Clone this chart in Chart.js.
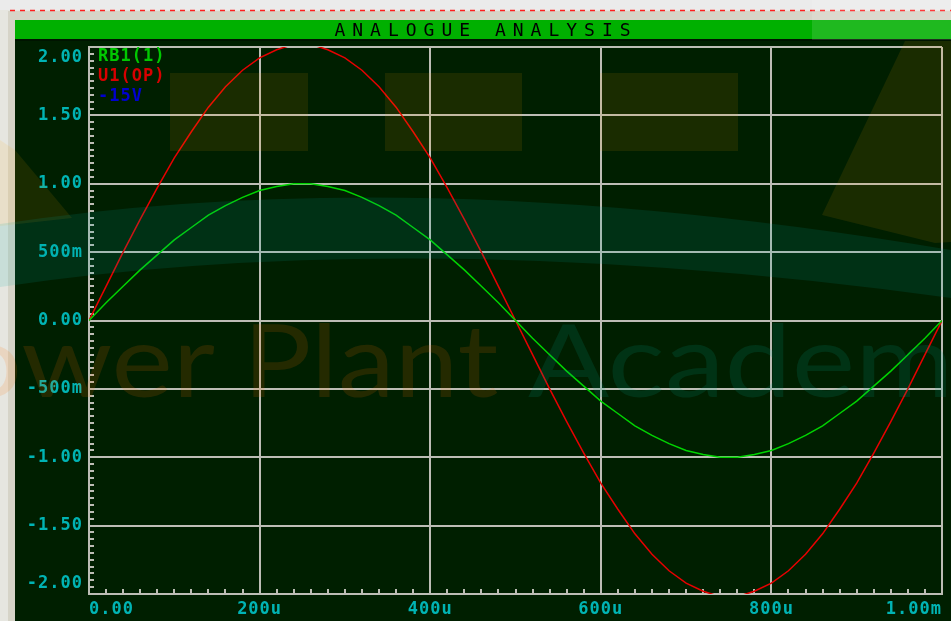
<!DOCTYPE html>
<html>
<head>
<meta charset="utf-8">
<title>Analogue Analysis</title>
<script src="https://cdn.jsdelivr.net/npm/chart.js@4.4.1/dist/chart.umd.min.js"></script>
<style>
  html, body { margin: 0; padding: 0; background: #e4e4dc; overflow: hidden; }
  #caja { width: 951px; height: 621px; }
</style>
</head>
<body>
<div id="caja"><canvas id="grafico" width="951" height="621"></canvas></div>
<script>
/// datos (tiempo en us) ///

var titulo = "ANALOGUE ANALYSIS";
var tiempos = [0, 20, 40, 60, 80, 100, 120, 140, 160, 180, 200, 220, 240, 260, 280, 300, 320, 340, 360, 380,
  400, 420, 440, 460, 480, 500, 520, 540, 560, 580, 600, 620, 640, 660, 680, 700, 720, 740, 760, 780,
  800, 820, 840, 860, 880, 900, 920, 940, 960, 980, 1000];

// RB1(1)
var valoresRB1 = [0, 0.13, 0.25, 0.37, 0.48, 0.59, 0.68, 0.77, 0.84, 0.90, 0.95, 0.98, 1.00, 1.00, 0.98, 0.95, 0.90, 0.84, 0.77, 0.68,
  0.59, 0.48, 0.37, 0.25, 0.13, 0, -0.13, -0.25, -0.37, -0.48, -0.59, -0.68, -0.77, -0.84, -0.90, -0.95, -0.98, -1.00, -1.00, -0.98,
  -0.95, -0.90, -0.84, -0.77, -0.68, -0.59, -0.48, -0.37, -0.25, -0.13, 0];

// U1(OP)
var valoresU1 = [0, 0.25, 0.50, 0.74, 0.97, 1.19, 1.38, 1.56, 1.71, 1.83, 1.92, 1.98, 2.02, 2.02, 1.98, 1.92, 1.83, 1.71, 1.56, 1.38,
  1.19, 0.97, 0.74, 0.50, 0.25, 0, -0.25, -0.50, -0.74, -0.97, -1.19, -1.38, -1.56, -1.71, -1.83, -1.92, -1.98, -2.02, -2.02, -1.98,
  -1.92, -1.83, -1.71, -1.56, -1.38, -1.19, -0.97, -0.74, -0.50, -0.25, 0];

// -15V (fuera de escala, no se ve)
var tiempos15 = [0, 1000];
var valores15 = [-15, -15];

var nombresSeries = ["RB1(1)", "U1(OP)", "-15V"];

var ticksX = [0, 200, 400, 600, 800, 1000];
var etiquetasX = ["0.00", "200u", "400u", "600u", "800u", "1.00m"];
var ticksY = [-2, -1.5, -1, -0.5, 0, 0.5, 1, 1.5, 2];
var etiquetasY = ["-2.00", "-1.50", "-1.00", "-500m", "0.00", "500m", "1.00", "1.50", "2.00"];

//////////////

const colorFondo = "#001f00";
const colorRejilla = "#bdbdb5";
const colorTexto = "#00b4b4";
const fuente = "DejaVu Sans Mono";

function puntos(xs, ys) {
    return xs.map((t, i) => ({ x: t, y: ys[i] }));
}

function etiqueta(lista, nombres, v) {
    const i = lista.findIndex((t) => Math.abs(t - v) < 1e-6);
    return i >= 0 ? nombres[i] : "";
}

// las etiquetas de los extremos quedan dentro del area (como en proteus)
function etiquetaY(v) {
    const txt = etiqueta(ticksY, etiquetasY, v);
    if (v === ticksY[ticksY.length - 1]) return ["", txt];
    if (v === ticksY[0]) return [txt, ""];
    return txt;
}

// marco de la ventana, barra verde y titulo
const marco = {
    id: "marco",
    beforeDraw(chart) {
        const ctx = chart.ctx;
        const w = chart.width, h = chart.height;
        ctx.save();
        ctx.fillStyle = "#e6e6e0";
        ctx.fillRect(0, 0, w, h);
        ctx.fillStyle = "#ebebeb";
        ctx.fillRect(0, 0, w, 10);
        ctx.fillStyle = "#d6d4c8";
        ctx.fillRect(8, 11, w - 8, 9);
        ctx.fillRect(8, 11, 7, h);
        ctx.strokeStyle = "#ff1e1e";
        ctx.lineWidth = 1.5;
        ctx.setLineDash([5, 5]);
        ctx.beginPath();
        ctx.moveTo(10, 10.5);
        ctx.lineTo(w, 10.5);
        ctx.stroke();
        ctx.setLineDash([]);
        ctx.fillStyle = "#00b000";
        ctx.fillRect(15, 20, w - 15, 19);
        ctx.fillStyle = "#001400";
        ctx.fillRect(15, 39, w - 15, 2);
        ctx.fillStyle = colorFondo;
        ctx.fillRect(15, 41, w - 15, h - 41);
        ctx.fillStyle = "#000000";
        ctx.font = "18px '" + fuente + "'";
        ctx.letterSpacing = "7px";
        ctx.textAlign = "center";
        ctx.textBaseline = "middle";
        ctx.fillText(titulo, 486, 31);
        ctx.restore();
        ctx.letterSpacing = "1px";
    }
};

// marcas menores hacia dentro y leyenda
const marcas = {
    id: "marcas",
    beforeDatasetsDraw(chart) {
        const { ctx, chartArea: a, scales: { x, y } } = chart;
        ctx.save();
        ctx.strokeStyle = colorRejilla;
        ctx.lineWidth = 2;
        ctx.beginPath();
        for (let i = -40; i <= 40; i++) {
            const py = Math.round(y.getPixelForValue(i * 0.05));
            ctx.moveTo(a.left, py);
            ctx.lineTo(a.left + 5, py);
        }
        for (let i = 0; i <= 50; i++) {
            const px = Math.round(x.getPixelForValue(i * 20));
            ctx.moveTo(px, a.bottom);
            ctx.lineTo(px, a.bottom - 5);
        }
        ctx.stroke();
        ctx.restore();
    },
    afterDatasetsDraw(chart) {
        const { ctx, chartArea: a } = chart;
        ctx.save();
        ctx.font = "bold 17px '" + fuente + "'";
        ctx.textAlign = "left";
        ctx.textBaseline = "middle";
        chart.data.datasets.forEach((ds, i) => {
            ctx.fillStyle = ds.legendColor;
            ctx.fillText(ds.label, a.left + 9, a.top + 10 + i * 20);
        });
        ctx.restore();
    }
};

// marca de agua encima de todo
const marcaAgua = {
    id: "marcaAgua",
    afterDraw(chart) {
        const ctx = chart.ctx;
        ctx.save();
        ctx.letterSpacing = "0px";
        ctx.fillStyle = "rgba(255,170,0,0.10)";
        ctx.fillRect(170, 73, 138, 78);
        ctx.fillRect(385, 73, 137, 78);
        ctx.fillRect(600, 73, 138, 78);
        ctx.beginPath();
        ctx.moveTo(0, 140);
        ctx.lineTo(15, 150);
        ctx.lineTo(72, 218);
        ctx.lineTo(0, 226);
        ctx.closePath();
        ctx.fill();
        ctx.beginPath();
        ctx.moveTo(905, 41);
        ctx.lineTo(951, 41);
        ctx.lineTo(951, 242);
        ctx.lineTo(935, 243);
        ctx.lineTo(822, 215);
        ctx.closePath();
        ctx.fill();
        ctx.fillStyle = "rgba(0,170,160,0.13)";
        ctx.beginPath();
        ctx.moveTo(0, 224);
        ctx.quadraticCurveTo(420, 160, 951, 250);
        ctx.lineTo(951, 298);
        ctx.quadraticCurveTo(420, 225, 0, 287);
        ctx.closePath();
        ctx.fill();
        ctx.fillStyle = "rgba(255,255,255,0.12)";
        ctx.fillRect(812, 0, 139, 40);
        ctx.font = "100px Lato";
        ctx.textBaseline = "alphabetic";
        ctx.fillStyle = "rgba(255,110,0,0.14)";
        ctx.textAlign = "right";
        ctx.save();
        ctx.translate(215, 397);
        ctx.scale(1.16, 1);
        ctx.fillText("Power", 0, 0);
        ctx.restore();
        ctx.textAlign = "left";
        ctx.save();
        ctx.translate(243, 397);
        ctx.scale(1.14, 1);
        ctx.fillText("Plant", 0, 0);
        ctx.restore();
        ctx.fillStyle = "rgba(0,170,140,0.15)";
        ctx.save();
        ctx.translate(528, 397);
        ctx.scale(1.2, 1);
        ctx.fillText("Academy", 0, 0);
        ctx.restore();
        ctx.restore();
    }
};

const config = {
    type: "line",
    data: {
        datasets: [
            { label: nombresSeries[0], data: puntos(tiempos, valoresRB1), borderColor: "#00d400", legendColor: "#00c800", borderWidth: 1.5 },
            { label: nombresSeries[1], data: puntos(tiempos, valoresU1), borderColor: "#e80000", legendColor: "#d80000", borderWidth: 1.5 },
            { label: nombresSeries[2], data: puntos(tiempos15, valores15), borderColor: "#0000d0", legendColor: "#0000d0", borderWidth: 1.5 }
        ]
    },
    options: {
        responsive: false,
        animation: false,
        devicePixelRatio: 1,
        elements: { point: { radius: 0 }, line: { tension: 0 } },
        layout: { padding: { top: 47, right: 9, left: 0, bottom: 0 } },
        plugins: { legend: { display: false }, tooltip: { enabled: false }, title: { display: false } },
        scales: {
            x: {
                type: "linear",
                min: 0,
                max: 1000,
                afterFit(s) { s.height = 27; },
                afterBuildTicks(s) { s.ticks = ticksX.map((v) => ({ value: v })); },
                grid: { color: colorRejilla, lineWidth: 2, drawTicks: false },
                border: { color: colorRejilla, width: 2 },
                ticks: {
                    padding: 5,
                    align: "inner",
                    maxRotation: 0,
                    autoSkip: false,
                    color: colorTexto,
                    font: { family: fuente, size: 17, weight: "bold" },
                    callback: (v) => etiqueta(ticksX, etiquetasX, v)
                }
            },
            y: {
                min: -2,
                max: 2,
                afterFit(s) { s.width = 89; },
                afterBuildTicks(s) { s.ticks = ticksY.map((v) => ({ value: v })); },
                grid: { color: colorRejilla, lineWidth: 2, drawTicks: false },
                border: { color: colorRejilla, width: 2 },
                ticks: {
                    padding: 6,
                    autoSkip: false,
                    color: colorTexto,
                    font: { family: fuente, size: 17, weight: "bold", lineHeight: 1.2 },
                    callback: etiquetaY
                }
            }
        }
    },
    plugins: [marco, marcas, marcaAgua]
};

new Chart(document.getElementById("grafico"), config);
</script>
</body>
</html>
